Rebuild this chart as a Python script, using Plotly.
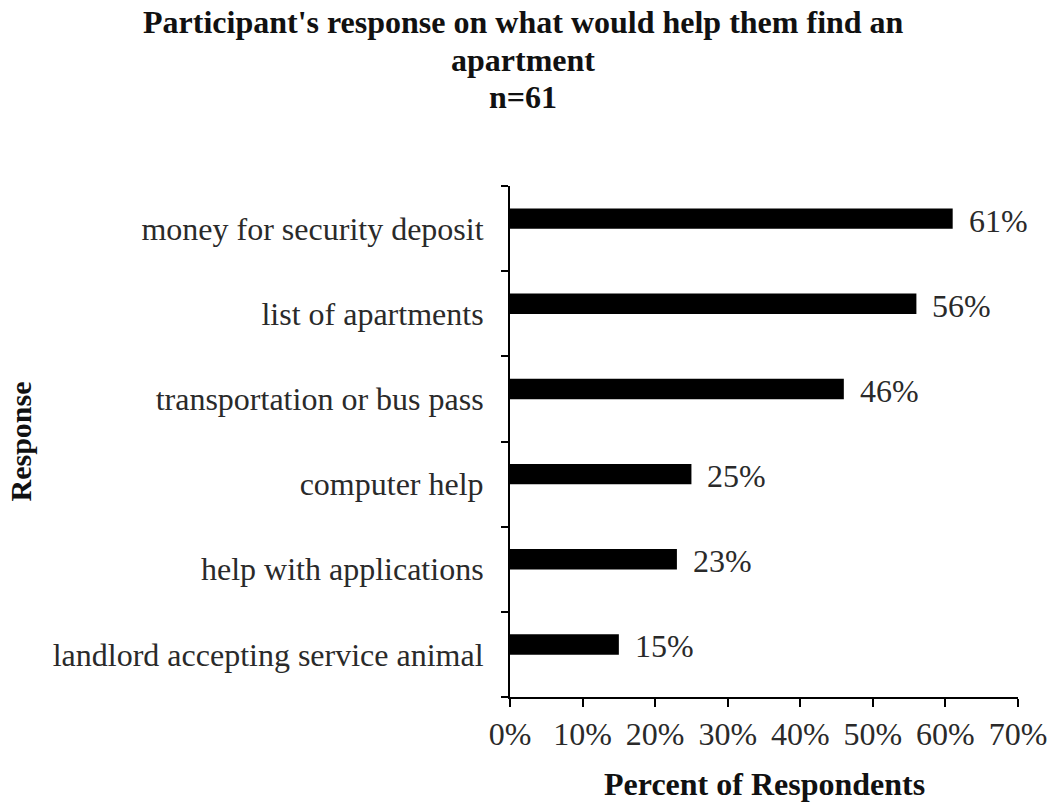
import plotly.graph_objects as go

categories = ["money for security deposit", "list of apartments", "transportation or bus pass",
              "computer help", "help with applications", "landlord accepting service animal"]
values = [61, 56, 46, 25, 23, 15]
tick_vals = [0, 10, 20, 30, 40, 50, 60, 70]
tick_text = [f"{v}%" for v in tick_vals]
title_lines = ["Participant's response on what would help them find an", "apartment", "n=61"]

cats_r = categories[::-1]
vals_r = values[::-1]

FONT = "Liberation Serif"
fig = go.Figure()
fig.add_trace(go.Bar(
    y=cats_r, x=vals_r, orientation="h",
    marker=dict(color="black", line=dict(width=0)),
    width=0.24, offset=-0.003,
))
for c, v in zip(cats_r, vals_r):
    fig.add_annotation(x=v, y=c, text=f"{v}%", showarrow=False, xanchor="left",
                       xshift=14, yshift=8, font=dict(family=FONT, size=32, color="#2a2a2a"))

for line, ypos in zip(title_lines, [1.3209, 1.2466, 1.1742]):
    fig.add_annotation(
        text=f"<b>{line}</b>", xref="paper", yref="paper", x=0.026, y=ypos,
        xanchor="center", yanchor="middle", showarrow=False,
        font=dict(family=FONT, size=32, color="#111111"))

# x-axis title
fig.add_annotation(
    text="<b>Percent of Respondents</b>", xref="paper", yref="paper", x=0.5, y=-0.1703,
    xanchor="center", yanchor="middle", showarrow=False,
    font=dict(family=FONT, size=32, color="#111111"))

fig.update_layout(
    width=1052, height=804,
    paper_bgcolor="white", plot_bgcolor="white",
    margin=dict(l=510, r=34, t=186, b=107),
    showlegend=False,
    font=dict(family=FONT, size=32, color="#2a2a2a"),
)
fig.update_xaxes(
    range=[0, 70], tickvals=tick_vals, ticktext=tick_text, automargin=False,
    showline=True, linecolor="black", linewidth=2, showgrid=False, zeroline=False,
    ticks="outside", ticklen=8, tickwidth=2, tickcolor="black",
    ticklabeloverflow="allow",
    tickfont=dict(family=FONT, size=32, color="#2a2a2a"),
)
fig.update_yaxes(
    type="category", categoryorder="array", categoryarray=cats_r,
    range=[-0.5, 5.5], automargin=False,
    showline=True, linecolor="black", linewidth=2, showgrid=False,
    ticks="outside", tickson="boundaries", ticklen=7, tickwidth=2, tickcolor="black",
    ticklabelstandoff=18,
    tickfont=dict(family=FONT, size=32, color="#2a2a2a"),
    title=dict(text="<b>Response</b>", standoff=12,
               font=dict(family=FONT, size=30, color="#111111")),
)
fig.write_html("out.html", config={"displayModeBar": False},
               post_script="document.body.style.margin='0';")
